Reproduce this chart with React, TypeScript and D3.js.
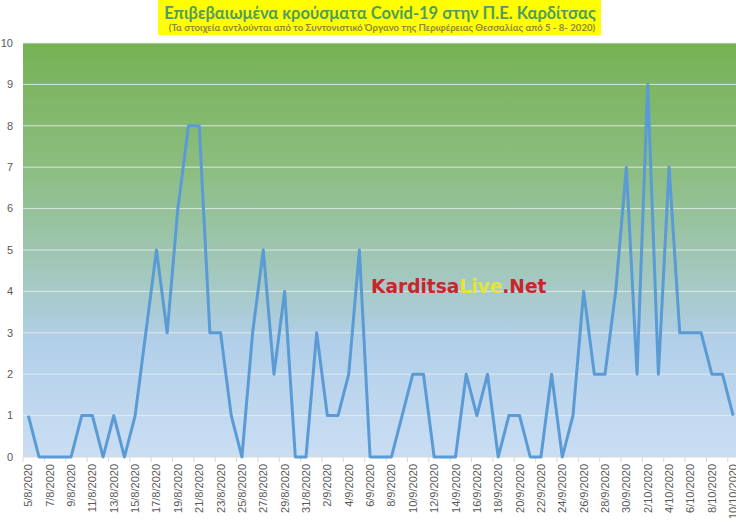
import React from 'react';
import * as d3 from 'd3';

// daily dates 5/8/2020 .. 10/10/2020
const dates: string[] = [
  '5/8/2020', '6/8/2020', '7/8/2020', '8/8/2020', '9/8/2020', '10/8/2020', '11/8/2020', '12/8/2020',
  '13/8/2020', '14/8/2020', '15/8/2020', '16/8/2020', '17/8/2020', '18/8/2020', '19/8/2020', '20/8/2020',
  '21/8/2020', '22/8/2020', '23/8/2020', '24/8/2020', '25/8/2020', '26/8/2020', '27/8/2020', '28/8/2020',
  '29/8/2020', '30/8/2020', '31/8/2020', '1/9/2020', '2/9/2020', '3/9/2020', '4/9/2020', '5/9/2020',
  '6/9/2020', '7/9/2020', '8/9/2020', '9/9/2020', '10/9/2020', '11/9/2020', '12/9/2020', '13/9/2020',
  '14/9/2020', '15/9/2020', '16/9/2020', '17/9/2020', '18/9/2020', '19/9/2020', '20/9/2020', '21/9/2020',
  '22/9/2020', '23/9/2020', '24/9/2020', '25/9/2020', '26/9/2020', '27/9/2020', '28/9/2020', '29/9/2020',
  '30/9/2020', '1/10/2020', '2/10/2020', '3/10/2020', '4/10/2020', '5/10/2020', '6/10/2020', '7/10/2020',
  '8/10/2020', '9/10/2020', '10/10/2020',
];

const cases: number[] = [
  1, 0, 0, 0, 0, 1, 1, 0, 1, 0, 1, 3, 5, 3, 6, 8,
  8, 3, 3, 1, 0, 3, 5, 2, 4, 0, 0, 3, 1, 1, 2, 5,
  0, 0, 0, 1, 2, 2, 0, 0, 0, 2, 1, 2, 0, 1, 1, 0,
  0, 2, 0, 1, 4, 2, 2, 4, 7, 2, 9, 2, 7, 3, 3, 3,
  2, 2, 1,
];

const yTicks: number[] = [0, 1, 2, 3, 4, 5, 6, 7, 8, 9, 10];

const title = 'Επιβεβαιωμένα κρούσματα Covid-19 στην Π.Ε. Καρδίτσας';
const subtitle = '(Τα στοιχεία αντλούνται από το Συντονιστικό Όργανο της Περιφέρειας Θεσσαλίας από 5 - 8- 2020)';

const W = 736;
const H = 525;
const plot = { left: 23, right: 738.5, top: 43, bottom: 457 };

const App: React.FC = () => {
  const x = d3.scalePoint<string>().domain(dates).range([plot.left, plot.right]).padding(0.5);
  const step = x.step();
  const y = d3.scaleLinear().domain([0, 10]).range([plot.bottom, plot.top]);

  const line = d3
    .line<number>()
    .x((_, i) => x(dates[i]) as number)
    .y(d => y(d));

  const font = '"Liberation Sans", Arial, sans-serif';

  return (
    <svg width={W} height={H} style={{ position: 'absolute', left: 0, top: 0, background: '#fff' }}>
      <defs>
        <linearGradient id="bg" x1="0" y1="0" x2="0" y2="1">
          <stop offset="0" stopColor="#76b254" />
          <stop offset="0.3" stopColor="#8cbd80" />
          <stop offset="0.58" stopColor="#a5c9c3" />
          <stop offset="0.72" stopColor="#b1cfe9" />
          <stop offset="1" stopColor="#cadef3" />
        </linearGradient>
      </defs>

      {/* title */}
      <rect x={158} y={0} width={443} height={35} fill="#ffff00" />
      <text x={380} y={19} textAnchor="middle" fontFamily="Lato, 'Open Sans', sans-serif" fontWeight="bold"
        fontSize={16.5} fill="#4f9c64">{title}</text>
      <text x={382} y={31} textAnchor="middle" fontFamily="Lato, 'Open Sans', sans-serif" fontWeight="bold"
        fontSize={9.6} fill="#8f8a2e">{subtitle}</text>

      {/* plot background */}
      <rect x={plot.left} y={plot.top} width={plot.right - plot.left} height={plot.bottom - plot.top} fill="url(#bg)" />

      {/* gridlines */}
      {yTicks.filter(t => t > 0).map(t => (
        <line key={t} x1={plot.left} x2={plot.right} y1={y(t)} y2={y(t)} stroke="#e8eef0" strokeOpacity={0.85} strokeWidth={1} />
      ))}

      {/* y labels */}
      {yTicks.map(t => (
        <text key={t} x={13} y={y(t)} dy="0.35em" textAnchor="end" fontFamily={font} fontSize={11} fill="#595959">{t}</text>
      ))}

      {/* x axis */}
      <line x1={plot.left} x2={plot.right} y1={plot.bottom} y2={plot.bottom} stroke="#d9d9d9" />
      {dates.map((d, i) =>
        i % 2 === 0 ? (
          <g key={d}>
            <line x1={(x(d) as number) - step / 2} x2={(x(d) as number) - step / 2} y1={plot.bottom} y2={plot.bottom + 5} stroke="#d9d9d9" />
            <text transform={`translate(${(x(d) as number) + 4},${plot.bottom + 7}) rotate(-90)`} textAnchor="end"
              fontFamily={font} fontSize={11} fill="#595959">{d}</text>
          </g>
        ) : null
      )}

      {/* watermark */}
      <text x={371} y={293} fontFamily="'DejaVu Sans', Verdana, sans-serif" fontWeight="bold" fontSize={18.6}>
        <tspan fill="#c9252c">Karditsa</tspan>
        <tspan fill="#e4e43c">Live</tspan>
        <tspan fill="#c9252c">.Net</tspan>
      </text>

      {/* data line */}
      <path d={line(cases) ?? ''} fill="none" stroke="#5b9bd5" strokeWidth={3} strokeLinejoin="round" />
    </svg>
  );
};

export default App;
